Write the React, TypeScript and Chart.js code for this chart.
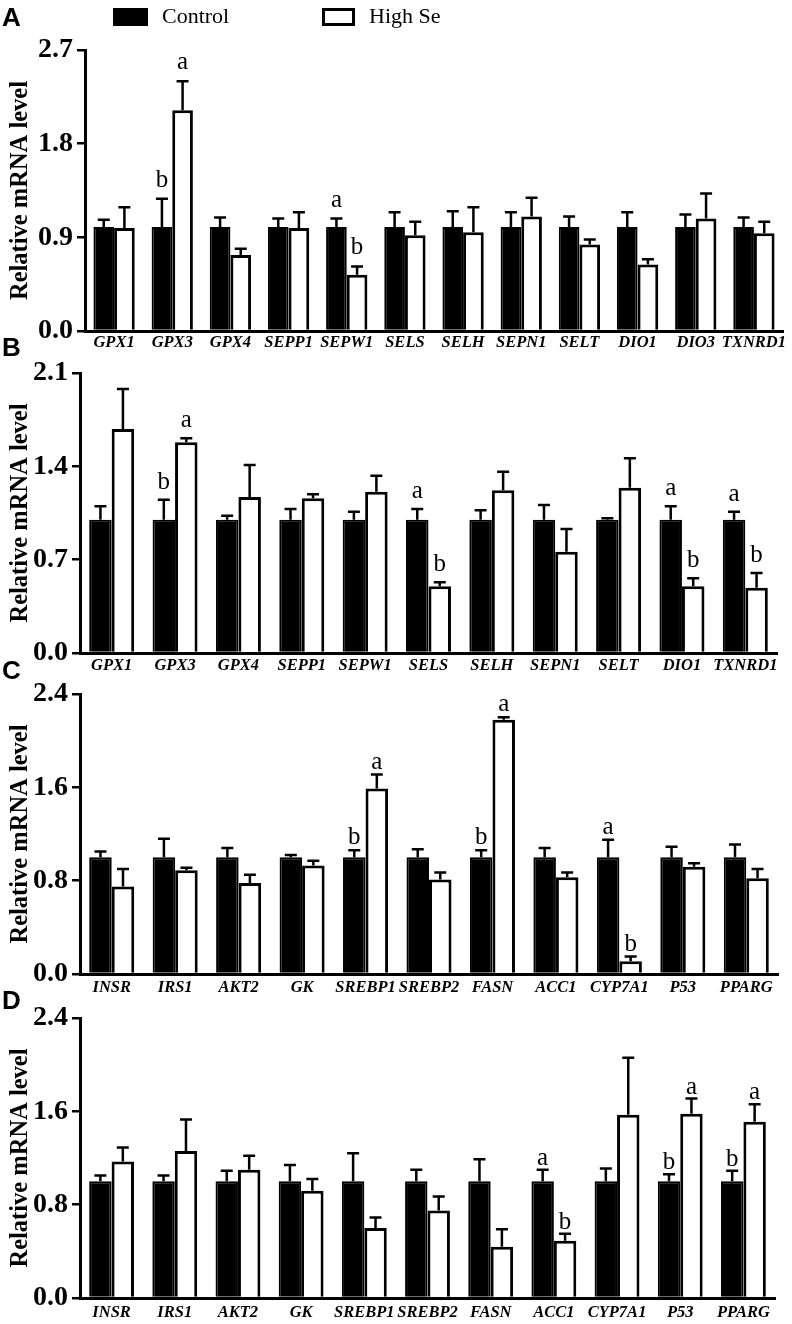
import React, { useEffect, useRef } from "react";
import { Chart, registerables } from "chart.js";

Chart.register(...registerables);

const SERIF = '"Liberation Serif", "Times New Roman", Times, serif';
const SANS = '"Liberation Sans", Arial, Helvetica, sans-serif';

// ---------- Data ----------
const genesA = ["GPX1", "GPX3", "GPX4", "SEPP1", "SEPW1", "SELS", "SELH", "SEPN1", "SELT", "DIO1", "DIO3", "TXNRD1"];
const ctrlA = [1.0, 1.0, 1.0, 1.0, 1.0, 1.0, 1.0, 1.0, 1.0, 1.0, 1.0, 1.0];
const ctrlErrA = [0.07, 0.27, 0.09, 0.08, 0.08, 0.14, 0.15, 0.14, 0.1, 0.14, 0.12, 0.09];
const highA = [0.99, 2.12, 0.73, 0.99, 0.54, 0.92, 0.95, 1.1, 0.83, 0.64, 1.08, 0.94];
const highErrA = [0.2, 0.28, 0.06, 0.15, 0.08, 0.13, 0.24, 0.18, 0.05, 0.05, 0.24, 0.11];
const ctrlSigA = ["", "b", "", "", "a", "", "", "", "", "", "", ""];
const highSigA = ["", "a", "", "", "b", "", "", "", "", "", "", ""];
const ticksA = [0, 0.9, 1.8, 2.7];

const genesB = ["GPX1", "GPX3", "GPX4", "SEPP1", "SEPW1", "SELS", "SELH", "SEPN1", "SELT", "DIO1", "TXNRD1"];
const ctrlB = [1.0, 1.0, 1.0, 1.0, 1.0, 1.0, 1.0, 1.0, 1.0, 1.0, 1.0];
const ctrlErrB = [0.1, 0.15, 0.03, 0.08, 0.06, 0.08, 0.07, 0.11, 0.01, 0.1, 0.06];
const highB = [1.68, 1.58, 1.17, 1.16, 1.21, 0.5, 1.22, 0.76, 1.24, 0.5, 0.49];
const highErrB = [0.3, 0.03, 0.24, 0.03, 0.12, 0.03, 0.14, 0.17, 0.22, 0.06, 0.11];
const ctrlSigB = ["", "b", "", "", "", "a", "", "", "", "a", "a"];
const highSigB = ["", "a", "", "", "", "b", "", "", "", "b", "b"];
const ticksB = [0, 0.7, 1.4, 2.1];

const genesC = ["INSR", "IRS1", "AKT2", "GK", "SREBP1", "SREBP2", "FASN", "ACC1", "CYP7A1", "P53", "PPARG"];
const ctrlC = [1.0, 1.0, 1.0, 1.0, 1.0, 1.0, 1.0, 1.0, 1.0, 1.0, 1.0];
const ctrlErrC = [0.05, 0.16, 0.08, 0.02, 0.06, 0.07, 0.06, 0.08, 0.15, 0.09, 0.11];
const highC = [0.75, 0.89, 0.78, 0.93, 1.59, 0.81, 2.18, 0.83, 0.11, 0.92, 0.82];
const highErrC = [0.15, 0.02, 0.07, 0.04, 0.12, 0.06, 0.02, 0.04, 0.04, 0.03, 0.08];
const ctrlSigC = ["", "", "", "", "b", "", "b", "", "a", "", ""];
const highSigC = ["", "", "", "", "a", "", "a", "", "b", "", ""];
const ticksC = [0, 0.8, 1.6, 2.4];

const genesD = ["INSR", "IRS1", "AKT2", "GK", "SREBP1", "SREBP2", "FASN", "ACC1", "CYP7A1", "P53", "PPARG"];
const ctrlD = [1.0, 1.0, 1.0, 1.0, 1.0, 1.0, 1.0, 1.0, 1.0, 1.0, 1.0];
const ctrlErrD = [0.05, 0.05, 0.09, 0.14, 0.24, 0.1, 0.19, 0.1, 0.11, 0.06, 0.09];
const highD = [1.17, 1.26, 1.1, 0.92, 0.6, 0.75, 0.44, 0.49, 1.57, 1.58, 1.51];
const highErrD = [0.12, 0.27, 0.12, 0.1, 0.09, 0.12, 0.15, 0.06, 0.49, 0.13, 0.15];
const ctrlSigD = ["", "", "", "", "", "", "", "a", "", "b", "b"];
const highSigD = ["", "", "", "", "", "", "", "b", "", "a", "a"];
const ticksD = [0, 0.8, 1.6, 2.4];

const seriesNames = ["Control", "High Se"];
const yTitle = "Relative mRNA level";

// ---------- Layout (page pixel geometry of each plot area) ----------
type Panel = {
  letter: string;
  labels: string[];
  ctrl: number[];
  ctrlErr: number[];
  high: number[];
  highErr: number[];
  ctrlSig: string[];
  highSig: string[];
  ticks: number[];
  top: number;
  bottom: number;
  left: number;
  right: number;
  letterTop: number;
  sigGap: number;
  labelPad: number;
};

const panels: Panel[] = [
  { letter: "A", labels: genesA, ctrl: ctrlA, ctrlErr: ctrlErrA, high: highA, highErr: highErrA, ctrlSig: ctrlSigA, highSig: highSigA, ticks: ticksA, top: 50, bottom: 331, left: 85, right: 783, letterTop: 4, sigGap: 12, labelPad: 2 },
  { letter: "B", labels: genesB, ctrl: ctrlB, ctrlErr: ctrlErrB, high: highB, highErr: highErrB, ctrlSig: ctrlSigB, highSig: highSigB, ticks: ticksB, top: 373, bottom: 653, left: 80, right: 777, letterTop: 334, sigGap: 11, labelPad: 3 },
  { letter: "C", labels: genesC, ctrl: ctrlC, ctrlErr: ctrlErrC, high: highC, highErr: highErrC, ctrlSig: ctrlSigC, highSig: highSigC, ticks: ticksC, top: 694, bottom: 974, left: 80, right: 778, letterTop: 657, sigGap: 6, labelPad: 4 },
  { letter: "D", labels: genesD, ctrl: ctrlD, ctrlErr: ctrlErrD, high: highD, highErr: highErrD, ctrlSig: ctrlSigD, highSig: highSigD, ticks: ticksD, top: 1018, bottom: 1298, left: 80, right: 775, letterTop: 987, sigGap: 5, labelPad: 5 },
];

const PAD_TOP = 40;
const X_AXIS_H = 28;

const errorBarPlugin = {
  id: "errorBarsSig",
  afterDatasetsDraw(chart: any, _args: any, opts: any) {
    const { ctx } = chart;
    const yScale = chart.scales.y;
    const gap = opts && opts.gap != null ? opts.gap : 10;
    chart.data.datasets.forEach((ds: any, di: number) => {
      const meta = chart.getDatasetMeta(di);
      meta.data.forEach((el: any, i: number) => {
        const v = ds.data[i];
        const e = ds.errors[i];
        const yTop = yScale.getPixelForValue(v + e);
        const yBar = yScale.getPixelForValue(v);
        ctx.save();
        ctx.strokeStyle = "#000";
        ctx.lineWidth = 2.5;
        ctx.lineCap = "butt";
        ctx.beginPath();
        ctx.moveTo(el.x, yBar);
        ctx.lineTo(el.x, yTop);
        ctx.moveTo(el.x - 6, yTop);
        ctx.lineTo(el.x + 6, yTop);
        ctx.stroke();
        const s = ds.sig[i];
        if (s) {
          ctx.fillStyle = "#000";
          ctx.font = `25px ${SERIF}`;
          ctx.textAlign = "center";
          ctx.textBaseline = "alphabetic";
          ctx.fillText(s, el.x, yTop - gap);
        }
        ctx.restore();
      });
    });
  },
};

function PanelChart({ p }: { p: Panel }) {
  const ref = useRef<HTMLCanvasElement | null>(null);
  const canvasTop = p.top - PAD_TOP;
  const height = PAD_TOP + (p.bottom - p.top) + X_AXIS_H;

  useEffect(() => {
    if (!ref.current) return;
    const chart = new Chart(ref.current, {
      type: "bar",
      data: {
        labels: p.labels,
        datasets: [
          {
            label: seriesNames[0],
            data: p.ctrl,
            errors: p.ctrlErr,
            sig: p.ctrlSig,
            backgroundColor: "#000",
            borderColor: "#000",
            borderWidth: 2,
            categoryPercentage: 0.71,
            barPercentage: 1.0,
          } as any,
          {
            label: seriesNames[1],
            data: p.high,
            errors: p.highErr,
            sig: p.highSig,
            backgroundColor: "#fff",
            borderColor: "#000",
            borderWidth: 3,
            categoryPercentage: 0.71,
            barPercentage: 1.0,
          } as any,
        ],
      },
      options: {
        animation: false,
        responsive: false,
        maintainAspectRatio: false,
        devicePixelRatio: 1,
        events: [],
        layout: { padding: { top: PAD_TOP, left: 0, right: 792 - p.right, bottom: 0 } },
        plugins: {
          legend: { display: false },
          tooltip: { enabled: false },
          errorBarsSig: { gap: p.sigGap },
        } as any,
        scales: {
          x: {
            afterFit: (s: any) => {
              s.height = X_AXIS_H;
            },
            ticks: {
              font: { family: SERIF, size: 16.5, weight: "bold", style: "italic" },
              color: "#000",
              padding: p.labelPad,
              maxRotation: 0,
              minRotation: 0,
              autoSkip: false,
            },
            grid: { display: false, drawTicks: false },
            border: { display: true, color: "#000", width: 3 },
          },
          y: {
            min: 0,
            max: p.ticks[p.ticks.length - 1],
            afterBuildTicks: (s: any) => {
              s.ticks = p.ticks.map((v) => ({ value: v }));
            },
            afterFit: (s: any) => {
              s.width = p.left;
            },
            ticks: {
              font: { family: SERIF, size: 28, weight: "bold" },
              color: "#000",
              padding: 4,
              callback: (v: any) => Number(v).toFixed(1),
            },
            grid: {
              display: true,
              drawOnChartArea: false,
              drawTicks: true,
              tickLength: 8,
              color: "#000",
              lineWidth: 2.5,
            },
            border: { display: true, color: "#000", width: 3 },
            title: {
              display: true,
              text: yTitle,
              color: "#000",
              font: { family: SERIF, size: 24.5, weight: "bold" },
              padding: { top: 6, bottom: 0 },
            },
          },
        },
      } as any,
      plugins: [errorBarPlugin],
    });
    return () => chart.destroy();
  }, [p]);

  return (
    <canvas
      ref={ref}
      width={792}
      height={height}
      style={{ position: "absolute", left: 0, top: canvasTop, width: 792, height }}
    />
  );
}

export default function App() {
  return (
    <div
      style={{
        position: "absolute",
        left: 0,
        top: 0,
        width: 792,
        height: 1324,
        background: "#fff",
        overflow: "hidden",
      }}
    >
      {panels.map((p) => (
        <PanelChart key={p.letter} p={p} />
      ))}
      {panels.map((p) => (
        <div
          key={"L" + p.letter}
          style={{
            position: "absolute",
            left: 2,
            top: p.letterTop,
            fontFamily: SANS,
            fontWeight: "bold",
            fontSize: 26,
            lineHeight: "26px",
            color: "#000",
          }}
        >
          {p.letter}
        </div>
      ))}
      {/* Legend */}
      <div style={{ position: "absolute", left: 113, top: 8, width: 35, height: 18, background: "#000" }} />
      <div
        style={{
          position: "absolute",
          left: 162,
          top: 5,
          fontFamily: SERIF,
          fontSize: 22,
          lineHeight: "22px",
          color: "#000",
          whiteSpace: "nowrap",
        }}
      >
        {seriesNames[0]}
      </div>
      <div
        style={{
          position: "absolute",
          left: 322,
          top: 8,
          width: 33,
          height: 18,
          background: "#fff",
          border: "3px solid #000",
          boxSizing: "border-box",
        }}
      />
      <div
        style={{
          position: "absolute",
          left: 369,
          top: 5,
          fontFamily: SERIF,
          fontSize: 22,
          lineHeight: "22px",
          color: "#000",
          whiteSpace: "nowrap",
        }}
      >
        {seriesNames[1]}
      </div>
    </div>
  );
}
